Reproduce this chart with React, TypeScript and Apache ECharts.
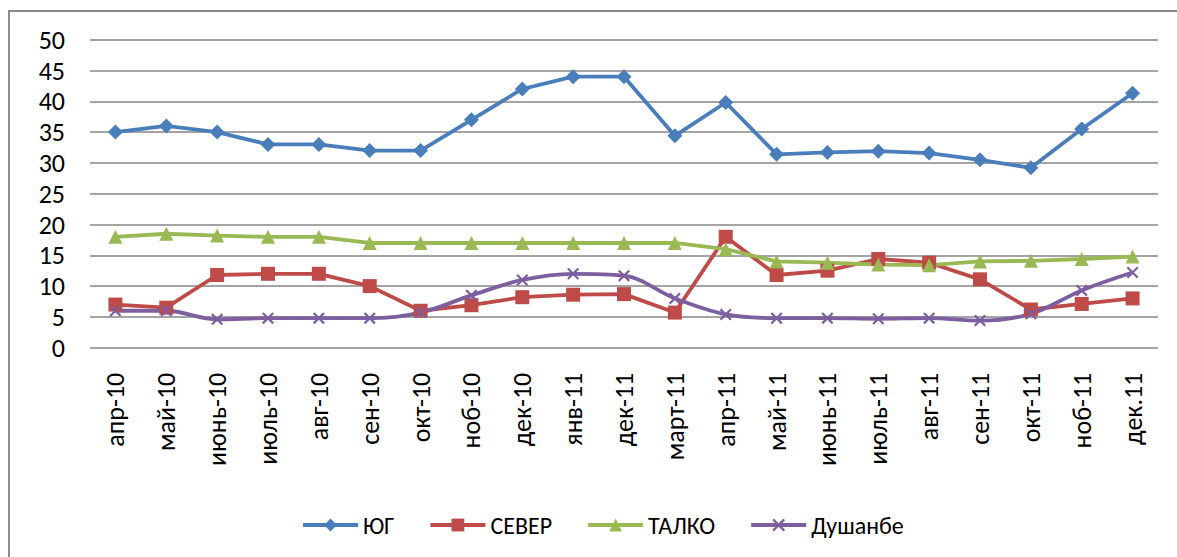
import React, { useEffect, useRef } from "react";
import * as echarts from "echarts";

const categories = [
  "апр-10", "май-10", "июнь-10", "июль-10", "авг-10", "сен-10", "окт-10",
  "ноб-10", "дек-10", "янв-11", "дек-11", "март-11", "апр-11", "май-11",
  "июнь-11", "июль-11", "авг-11", "сен-11", "окт-11", "ноб-11", "дек.11",
];

const yug = [35, 36, 35, 33, 33, 32, 32, 37, 42, 44, 44, 34.4, 39.8, 31.4, 31.7, 31.9, 31.6, 30.5, 29.2, 35.5, 41.3];
const sever = [7, 6.5, 11.8, 12, 12, 10, 6, 6.9, 8.2, 8.6, 8.7, 5.7, 18, 11.8, 12.5, 14.4, 13.8, 11.1, 6.2, 7.1, 8];
const talko = [18, 18.5, 18.2, 18, 18, 17, 17, 17, 17, 17, 17, 17, 16, 14, 13.8, 13.5, 13.4, 14, 14.1, 14.4, 14.8];
const dushanbe = [6, 6, 4.6, 4.8, 4.8, 4.8, 5.7, 8.5, 11, 12, 11.7, 8, 5.4, 4.8, 4.8, 4.7, 4.8, 4.4, 5.5, 9.3, 12.2];

const FONT = 'Carlito, Lato, "Noto Sans", sans-serif';
const CROSS = "path://M0,1.3L1.3,0L10,8.7L8.7,10Z M8.7,0L10,1.3L1.3,10L0,8.7Z";

export default function App() {
  const ref = useRef<HTMLDivElement>(null);
  useEffect(() => {
    if (!ref.current) return;
    const chart = echarts.init(ref.current, null, { renderer: "svg" });
    const mk = (name: string, data: number[], color: string, symbol: string, size: number | number[], smooth = false) => ({
      name,
      type: "line",
      data,
      smooth: smooth ? 0.35 : false,
      symbol,
      symbolSize: size,
      showAllSymbol: true,
      itemStyle: { color },
      lineStyle: { color, width: 3.8 },
    });
    chart.setOption({
      animation: false,
      backgroundColor: "#ffffff",
      textStyle: { fontFamily: FONT },
      graphic: [
        {
          type: "rect",
          shape: { x: 9, y: 11, width: 1180, height: 560 },
          style: { fill: "none", stroke: "#8c8c8c", lineWidth: 2 },
          silent: true,
        },
      ],
      grid: { left: 90, right: 19, top: 39.7, bottom: 209.3, containLabel: false },
      xAxis: {
        type: "category",
        data: categories,
        boundaryGap: true,
        axisLine: { show: false },
        axisTick: { show: false },
        axisLabel: { rotate: 90, fontSize: 26, color: "#000", margin: 25, fontFamily: FONT, interval: 0 },
      },
      yAxis: {
        type: "value",
        min: 0,
        max: 50,
        interval: 5,
        axisLine: { show: false },
        axisTick: { show: false },
        axisLabel: { fontSize: 26, color: "#000", margin: 25, fontFamily: FONT },
        splitLine: { lineStyle: { color: "#868686", width: 1.5 } },
      },
      legend: {
        top: 508,
        left: 296,
        itemWidth: 55,
        itemHeight: 16,
        itemGap: 34,
        lineStyle: { width: 4 },
        textStyle: { fontSize: 24, color: "#000", fontFamily: FONT },
        data: ["ЮГ", "СЕВЕР", "ТАЛКО", "Душанбе"],
      },
      series: [
        mk("ЮГ", yug, "#4a7ebb", "diamond", 15),
        mk("СЕВЕР", sever, "#be4b48", "rect", 14),
        mk("ТАЛКО", talko, "#98b954", "triangle", 14),
        mk("Душанбе", dushanbe, "#7d5fa0", CROSS, 12, true),
      ],
    });
    return () => chart.dispose();
  }, []);
  return (
    <div
      ref={ref}
      style={{ position: "fixed", left: 0, top: 0, width: 1177, height: 557 }}
    />
  );
}
